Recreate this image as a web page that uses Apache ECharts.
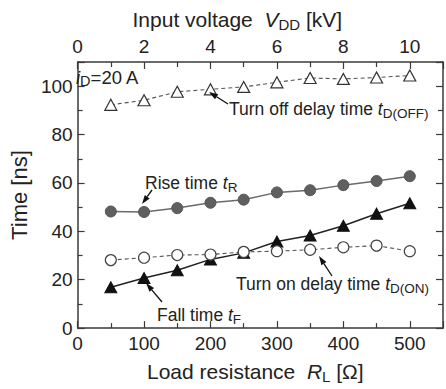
<!DOCTYPE html>
<html>
<head>
<meta charset="utf-8">
<script src="https://cdn.jsdelivr.net/npm/echarts@6/dist/echarts.min.js"></script>
<style>
  html, body { margin: 0; padding: 0; background: #fff; }
  #chart { width: 446px; height: 389px; }
</style>
</head>
<body>
<div id="chart"></div>
<script>
// Load resistance values (Ω) at which the switching times were measured
const resistance = [50, 100, 150, 200, 250, 300, 350, 400, 450, 500];
// Switching times in ns
const turnOffDelay = [92.3, 94.2, 97.7, 98.7, 99.7, 101.6, 103.4, 103.0, 103.6, 104.4];
const riseTime     = [48.2, 48.0, 49.6, 51.8, 53.1, 56.1, 57.0, 59.1, 60.8, 62.8];
const fallTime     = [16.9, 20.7, 23.9, 28.4, 31.1, 35.8, 38.3, 42.3, 47.3, 51.6];
const turnOnDelay  = [28.1, 29.1, 30.2, 30.4, 31.5, 31.8, 32.4, 33.4, 34.1, 31.8];

// Tick labels
const resistanceTicks = [0, 100, 200, 300, 400, 500];
const voltageTicks = [0, 2, 4, 6, 8, 10];
const timeTicks = [0, 20, 40, 60, 80, 100];

const FONT = '"Liberation Sans", Arial, sans-serif';
const AXIS_COLOR = '#3a3a3a';
const TEXT_COLOR = '#222';

const pairs = ys => resistance.map((x, i) => [x, ys[i]]);
const onlyTicks = list => v => (list.indexOf(Math.round(v * 1000) / 1000) >= 0 ? String(v) : '');

const axisLine = { show: true, onZero: false, lineStyle: { color: AXIS_COLOR, width: 1.5 } };
const tick = { show: true, inside: true, length: 7, lineStyle: { color: AXIS_COLOR, width: 1.2 } };
const minor = { show: true, splitNumber: 2, length: 5, lineStyle: { color: AXIS_COLOR, width: 1.2 } };
const labelStyle = { color: TEXT_COLOR, fontSize: 19, fontFamily: FONT };

// Axis titles: italic symbol followed by an upright subscript
const nameRich = {
  i: { fontSize: 21, fontFamily: FONT, fontStyle: 'italic', color: TEXT_COLOR, lineHeight: 26 },
  s: { fontSize: 15, fontFamily: FONT, color: TEXT_COLOR, verticalAlign: 'bottom', lineHeight: 16 }
};
const nameStyle = pad => ({
  fontSize: 21, fontFamily: FONT, color: TEXT_COLOR, lineHeight: 26, padding: pad, rich: nameRich
});

const chart = echarts.init(document.getElementById('chart'), null, { renderer: 'svg' });

chart.setOption({
  animation: false,
  backgroundColor: '#fff',
  grid: { left: 68, right: 0, top: 62, bottom: 57, containLabel: false },
  xAxis: [
    {
      type: 'value', position: 'bottom', min: 0, max: 550, interval: 100,
      axisLine, axisTick: tick, minorTick: minor, splitLine: { show: false },
      axisLabel: Object.assign({ margin: 6, formatter: onlyTicks(resistanceTicks) }, labelStyle),
      name: 'Load resistance  {i|R}{s|L} [Ω]',
      nameLocation: 'middle', nameGap: 29,
      nameTextStyle: nameStyle([0, 10, 0, 0])
    },
    {
      type: 'value', position: 'top', min: 0, max: 11, interval: 2,
      axisLine, axisTick: tick, minorTick: minor, splitLine: { show: false },
      axisLabel: Object.assign({ margin: 6, formatter: onlyTicks(voltageTicks) }, labelStyle),
      name: 'Input voltage  {i|V}{s|DD} [kV]',
      nameLocation: 'middle', nameGap: 29,
      nameTextStyle: nameStyle([0, 46, 0, 0])
    }
  ],
  yAxis: [
    {
      type: 'value', position: 'left', min: 0, max: 110, interval: 20,
      axisLine, axisTick: tick, minorTick: minor, splitLine: { show: false },
      axisLabel: Object.assign({ margin: 5, formatter: onlyTicks(timeTicks) }, labelStyle),
      name: 'Time [ns]', nameLocation: 'middle', nameGap: 42,
      nameTextStyle: { fontSize: 22, fontFamily: FONT, color: TEXT_COLOR }
    },
    {
      type: 'value', position: 'right', min: 0, max: 110, interval: 20,
      axisLine, axisTick: tick, minorTick: minor, splitLine: { show: false },
      axisLabel: { show: false }
    }
  ],
  series: [
    {
      name: 'Turn off delay time', type: 'line', data: pairs(turnOffDelay),
      symbol: 'triangle', symbolSize: [12, 11],
      lineStyle: { color: '#555', width: 1.1, type: [4, 3] },
      itemStyle: { color: '#fff', borderColor: '#333', borderWidth: 1.2 }, z: 3
    },
    {
      name: 'Rise time', type: 'line', data: pairs(riseTime),
      symbol: 'circle', symbolSize: 11,
      lineStyle: { color: '#6a6a6a', width: 1.5 },
      itemStyle: { color: '#5f5f5f', borderColor: '#555', borderWidth: 1 }, z: 3
    },
    {
      name: 'Fall time', type: 'line', data: pairs(fallTime),
      symbol: 'triangle', symbolSize: [12, 11],
      lineStyle: { color: '#222', width: 1.5 },
      itemStyle: { color: '#111', borderColor: '#111', borderWidth: 1 }, z: 3
    },
    {
      name: 'Turn on delay time', type: 'line', data: pairs(turnOnDelay),
      symbol: 'circle', symbolSize: 11,
      lineStyle: { color: '#555', width: 1.1, type: [4, 3] },
      itemStyle: { color: '#fff', borderColor: '#444', borderWidth: 1.2 }, z: 4
    }
  ]
});

// Annotation arrows: a thin shaft with a filled head at the tip
function arrow(x1, y1, x2, y2) {
  const ang = Math.atan2(y2 - y1, x2 - x1);
  const len = 9, half = 3;
  const bx = x2 - len * Math.cos(ang), by = y2 - len * Math.sin(ang);
  const px = -Math.sin(ang) * half, py = Math.cos(ang) * half;
  return [
    { type: 'line', shape: { x1, y1, x2: bx, y2: by }, style: { stroke: '#111', lineWidth: 1.3 }, z: 10 },
    { type: 'polygon', shape: { points: [[x2, y2], [bx + px, by + py], [bx - px, by - py]] },
      style: { fill: '#111' }, z: 10 }
  ];
}

function note(x, y, text, size) {
  const fs = size || 17.5;
  return {
    type: 'text', x, y, z: 10,
    style: {
      text, fontSize: fs, fontFamily: FONT, fill: TEXT_COLOR, lineHeight: fs + 4.5,
      textVerticalAlign: 'middle',
      rich: {
        i: { fontSize: fs, fontFamily: FONT, fontStyle: 'italic', fill: TEXT_COLOR, lineHeight: fs + 4.5 },
        s: { fontSize: fs - 4, fontFamily: FONT, fill: TEXT_COLOR, verticalAlign: 'bottom', lineHeight: fs - 3.5 }
      }
    }
  };
}

chart.setOption({
  graphic: [
    note(76, 77, '{i|i}{s|D}=20 A', 18.5),
    note(229, 109, 'Turn off delay time {i|t}{s|D(OFF)}'),
    note(145, 183, 'Rise time {i|t}{s|R}'),
    note(236, 284, 'Turn on delay time {i|t}{s|D(ON)}'),
    note(157, 315, 'Fall time {i|t}{s|F}'),
    ...arrow(228, 104, 209, 92),
    ...arrow(152, 190, 142, 204),
    ...arrow(332, 276, 319, 256),
    ...arrow(162, 302, 146, 283)
  ]
});
</script>
</body>
</html>
